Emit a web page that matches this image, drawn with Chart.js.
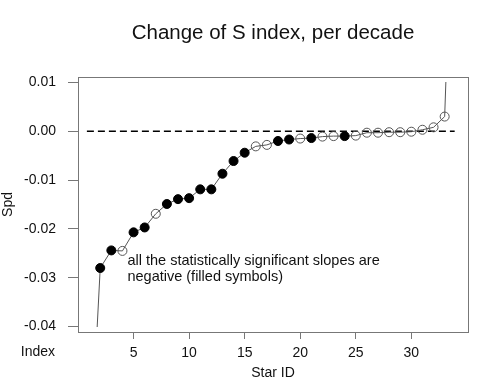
<!DOCTYPE html>
<html>
<head>
<meta charset="utf-8">
<script src="https://cdn.jsdelivr.net/npm/chart.js@4/dist/chart.umd.min.js"></script>
<style>
  html, body { margin: 0; padding: 0; background: #fff; }
  #wrap { width: 495px; height: 386px; }
</style>
</head>
<body>
<div id="wrap"><canvas id="slopes"></canvas></div>
<script>
// star IDs and slope per decade (sorted), first and last run off the plot
const starIds = [1, 2, 3, 4, 5, 6, 7, 8, 9, 10, 11, 12, 13, 14, 15, 16, 17,
                 18, 19, 20, 21, 22, 23, 24, 25, 26, 27, 28, 29, 30, 31, 32, 33, 34];
const slopes = [-0.072, -0.0280, -0.0244, -0.0245, -0.0207, -0.0197, -0.0169, -0.0149,
                -0.0139, -0.0137, -0.0119, -0.0119, -0.0087, -0.0061, -0.0044, -0.0031,
                -0.0028, -0.0020, -0.0017, -0.0015, -0.0014, -0.0011, -0.0010, -0.0010,
                -0.0009, -0.0003, -0.0003, -0.0002, -0.0002, -0.0001, 0.0003, 0.0008,
                0.0030, 0.069];
// 1 = statistically significant (filled symbol)
const significant = [1, 1, 1, 0, 1, 1, 0, 1, 1, 1, 1, 1, 1, 1, 1, 0, 0,
                     1, 1, 0, 1, 0, 0, 1, 0, 0, 0, 0, 0, 0, 0, 0, 0, 0];
const zeroLineX = [0.8, 33.9];
const zeroLineY = [0, 0];
const xTicks = [5, 10, 15, 20, 25, 30];
const yTicks = [-0.04, -0.03, -0.02, -0.01, 0.00, 0.01];
const titleText = 'Change of S index, per decade';
const noteLines = ['all the statistically significant slopes are', 'negative (filled symbols)'];

const points = starIds.map((id, i) => ({ x: id, y: slopes[i] }));
const zeroLine = zeroLineX.map((x, i) => ({ x: x, y: zeroLineY[i] }));
const FONT = '"Liberation Sans", Arial, sans-serif';

// R-style frame, centred title, note and the "Index" label
const boxAndNotes = {
  id: 'boxAndNotes',
  afterDraw(chart) {
    const ctx = chart.ctx;
    const a = chart.chartArea;
    const xs = chart.scales.x, ys = chart.scales.y;
    ctx.save();
    ctx.strokeStyle = '#777';
    ctx.lineWidth = 1;
    ctx.strokeRect(Math.round(a.left) + 0.5, Math.round(a.top) + 0.5,
                   Math.round(a.right - a.left), Math.round(a.bottom - a.top));
    ctx.fillStyle = '#111';
    ctx.textBaseline = 'middle';
    ctx.textAlign = 'center';
    ctx.font = '20.5px ' + FONT;
    ctx.fillText(titleText, (a.left + a.right) / 2, 33);
    ctx.textAlign = 'left';
    ctx.font = '14.5px ' + FONT;
    ctx.fillText(noteLines[0], xs.getPixelForValue(4.45), ys.getPixelForValue(-0.0265));
    ctx.fillText(noteLines[1], xs.getPixelForValue(4.45), ys.getPixelForValue(-0.0299));
    ctx.font = '14px ' + FONT;
    ctx.textAlign = 'right';
    ctx.fillText('Index', a.left - 23, a.bottom + 20);
    ctx.restore();
  }
};

new Chart(document.getElementById('slopes'), {
  type: 'scatter',
  data: {
    datasets: [{
      data: points,
      showLine: true,
      borderColor: '#555',
      borderWidth: 1,
      pointRadius: 4.5,
      pointBorderWidth: 1,
      pointBackgroundColor: significant.map(s => s ? '#000' : 'rgba(0,0,0,0)'),
      pointBorderColor: significant.map(s => s ? '#000' : '#555'),
      clip: { left: 0, top: -5, right: 0, bottom: -5 }
    }, {
      data: zeroLine,
      showLine: true,
      borderColor: '#000',
      borderWidth: 1.5,
      borderDash: [7, 4],
      pointRadius: 0
    }]
  },
  options: {
    responsive: true,
    maintainAspectRatio: false,
    animation: false,
    layout: { padding: { left: 0, right: 27, top: 77, bottom: 0 } },
    plugins: {
      legend: { display: false },
      tooltip: { enabled: false },
      title: { display: false }
    },
    scales: {
      x: {
        type: 'linear',
        min: 0,
        max: 35.1,
        afterBuildTicks: s => { s.ticks = xTicks.map(v => ({ value: v })); },
        afterFit: s => { s.height = 54; },
        grid: { drawOnChartArea: false, drawTicks: true, tickLength: 7, color: '#777' },
        border: { display: false },
        ticks: {
          color: '#111',
          padding: 6,
          maxRotation: 0,
          font: { family: FONT, size: 14 }
        },
        title: {
          display: true,
          text: 'Star ID',
          color: '#111',
          font: { family: FONT, size: 14 },
          padding: { top: 0, bottom: 4 }
        }
      },
      y: {
        type: 'linear',
        min: -0.0411,
        max: 0.0111,
        afterBuildTicks: s => { s.ticks = yTicks.map(v => ({ value: v })); },
        afterFit: s => { s.width = 78; },
        grid: { drawOnChartArea: false, drawTicks: true, tickLength: 10, color: '#777' },
        border: { display: false },
        ticks: {
          color: '#111',
          padding: 12,
          callback: v => v.toFixed(2),
          font: { family: FONT, size: 14 }
        },
        title: {
          display: true,
          text: 'Spd',
          color: '#111',
          font: { family: FONT, size: 14 },
          padding: { top: 0, bottom: 0 }
        }
      }
    }
  },
  plugins: [boxAndNotes]
});
</script>
</body>
</html>
